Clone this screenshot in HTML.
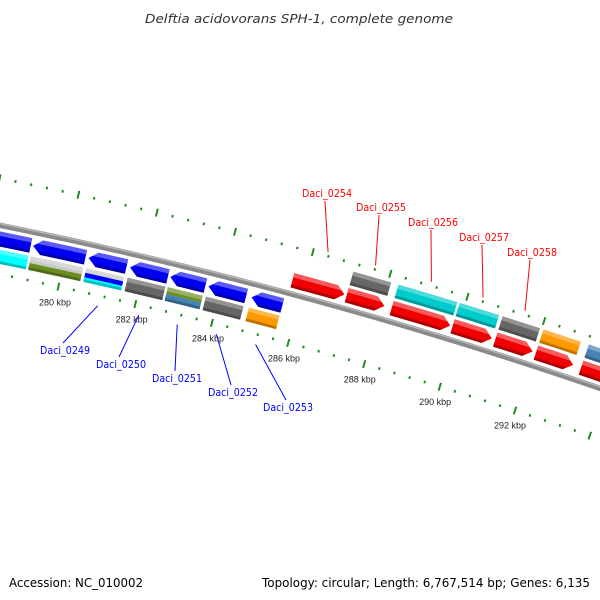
<!DOCTYPE html>
<html><head><meta charset="utf-8">
<style>
html,body{margin:0;padding:0;background:#fff;}
svg{display:block;font-family:"Liberation Sans","DejaVu Sans",sans-serif;}
</style></head>
<body>
<svg id="map" width="600" height="600" viewBox="0 0 600 600" xmlns="http://www.w3.org/2000/svg">
<rect width="600" height="600" fill="#fff"/>
<text x="145" y="23" textLength="308" lengthAdjust="spacingAndGlyphs" font-family="DejaVu Sans, sans-serif" font-size="12.5" font-style="italic" fill="#333">Delftia acidovorans SPH-1, complete genome</text>
<text x="9" y="587" textLength="134" lengthAdjust="spacingAndGlyphs" font-family="DejaVu Sans, sans-serif" font-size="12" fill="#000">Accession: NC_010002</text>
<text x="262" y="587" textLength="328" lengthAdjust="spacingAndGlyphs" font-family="DejaVu Sans, sans-serif" font-size="12" fill="#000">Topology: circular; Length: 6,767,514 bp; Genes: 6,135</text>
<g id="layer"></g>
</svg>
<script>
// ---- data ----
var geneNames = ["g0248","Daci_0249x","Daci_0249","Daci_0250","Daci_0251","Daci_0252","Daci_0253","Daci_0254","Daci_0255","Daci_0256","Daci_0257","Daci_0258","g0259","g0260"];
var geneStarts = [276.5,279.13,280.56,281.63,282.67,283.66,284.78,285.66,287.07,288.24,289.83,290.95,292.02,293.21];
var geneEnds   = [279.13,280.54,281.60,282.67,283.64,284.70,285.64,287.07,288.11,289.83,290.92,291.99,293.06,295.0];
var geneStrands = [-1,-1,-1,-1,-1,-1,-1,1,1,1,1,1,1,1];
var cogColors = [["#00ffff"],["#c8c8c8","#6b8e23"],["#c8c8c8","#0000ff","#00ffff"],["#666666"],["#6b8e23","#4682b4"],["#666666"],["#ff9900"],[],["#666666"],["#00cccc"],["#00cccc"],["#666666"],["#ff9900"],["#4682b4"]];
var labelledGenes = ["Daci_0249","Daci_0250","Daci_0251","Daci_0252","Daci_0253","Daci_0254","Daci_0255","Daci_0256","Daci_0257","Daci_0258"];
var tickLabels = [280,282,284,286,288,290,292];
var tickStart = 276, tickEnd = 296, minorStep = 0.4, majorStep = 2;

// ---- layout ----
var CX=-949, CY=4903, R=4773, A0=12.31, K0=280, DEG=0.4783;
var labelX = [65,121,177,233,288,327,381,433,484,532];
var labelY = [354,368,382,396,411,197,211,226,241,256];

var NS="http://www.w3.org/2000/svg";
var layer=document.getElementById('layer');
function pt(k,r){var a=(A0+(k-K0)*DEG)*Math.PI/180;return [CX+r*Math.sin(a),CY-r*Math.cos(a)];}
function mk(tag,attrs,parent){var el=document.createElementNS(NS,tag);for(var key in attrs)el.setAttribute(key,attrs[key]);(parent||layer).appendChild(el);return el;}
function fmt(p){return p.map(function(q){return q[0].toFixed(2)+","+q[1].toFixed(2);}).join(" ");}
function band(k1,k2,r1,r2){var p=[],n=8,i;for(i=0;i<=n;i++){p.push(pt(k1+(k2-k1)*i/n,r2));}for(i=n;i>=0;i--){p.push(pt(k1+(k2-k1)*i/n,r1));}return fmt(p);}
function arrowShape(k1,k2,r1,r2,dir){var h=0.22,p=[],n=6,i,rm=(r1+r2)/2;
 if(dir>0){var kb=Math.max(k1,k2-h);for(i=0;i<=n;i++)p.push(pt(k1+(kb-k1)*i/n,r2));p.push(pt(k2,rm));for(i=n;i>=0;i--)p.push(pt(k1+(kb-k1)*i/n,r1));}
 else{var ka=Math.min(k2,k1+h);p.push(pt(k1,rm));for(i=0;i<=n;i++)p.push(pt(ka+(k2-ka)*i/n,r2));for(i=n;i>=0;i--)p.push(pt(ka+(k2-ka)*i/n,r1));}
 return fmt(p);}
var defs=mk('defs',{});

// backbone
function arcPath(r,k1,k2){var s="",n=60;for(var i=0;i<=n;i++){var q=pt(k1+(k2-k1)*i/n,r);s+=(i?"L":"M")+q[0].toFixed(2)+" "+q[1].toFixed(2);}return s;}
var bb=mk('path',{d:arcPath(R,tickStart,tickEnd),stroke:"#8a8a8a","stroke-width":5.5,fill:"none"});


var bbh=mk('path',{d:arcPath(R+1.6,tickStart,tickEnd),stroke:"#b5b5b5","stroke-width":1.5,fill:"none"});



// genes
var shrink=0.03;
for(var g=0;g<geneStarts.length;g++){
 var gs=geneStarts[g]+shrink,ge=geneEnds[g]-shrink,dir=geneStrands[g];
 var r1=dir>0?R+6:R-21, r2=dir>0?R+21:R-6;
 var base=dir>0?"#f00000":"#0000f0";
 var cid="clip"+g;
 var cp=mk('clipPath',{id:cid},defs);
 mk('polygon',{points:arrowShape(gs,ge,r1,r2,dir)},cp);
 var grp=mk('g',{"clip-path":"url(#"+cid+")"});
 
 
 var hgt=r2-r1;
 mk('polygon',{points:band(gs-0.3,ge+0.3,r1,r2),fill:base},grp);
 mk('polygon',{points:band(gs-0.3,ge+0.3,r2-hgt*0.3,r2),fill:"#fff","fill-opacity":0.35},grp);
 mk('polygon',{points:band(gs-0.3,ge+0.3,r1,r1+hgt*0.2),fill:"#000","fill-opacity":0.28},grp);
 var cols=cogColors[g];
 if(cols.length){
  var c1=dir>0?R+24:R-38, c2=dir>0?R+38:R-24, ch=(c2-c1);
  var cg=mk('g',{});
  
  
  var stp=ch/cols.length;
  for(var c=0;c<cols.length;c++){
   var rt=c2-c*stp;
   mk('polygon',{points:band(gs,ge,rt-stp,rt),fill:cols[c]},cg);
  }
  mk('polygon',{points:band(gs,ge,c2-ch*0.3,c2),fill:"#fff","fill-opacity":0.3},cg);
  mk('polygon',{points:band(gs,ge,c1,c1+ch*0.2),fill:"#000","fill-opacity":0.25},cg);
 }
}

// ticks
var green="#228a22";
[R+46,R-48].forEach(function(rr,ri){
 var n=Math.round((tickEnd-tickStart)/minorStep);
 for(var i=0;i<=n;i++){
  var k=tickStart+i*minorStep;
  var major=Math.abs(k/majorStep-Math.round(k/majorStep))<1e-6;
  var len=major?4:1.3;
  var a=pt(k,rr-len),b=pt(k,rr+len);
  var t=mk('line',{x1:a[0],y1:a[1],x2:b[0],y2:b[1],stroke:green,"stroke-width":2});
  
  
 }
});
tickLabels.forEach(function(k){
 var q=pt(k,R-64);
 var t=mk('text',{x:q[0],y:q[1]+3,"text-anchor":"middle","font-size":9,fill:"#222"});
 t.textContent=k+" kbp";
 
 
});

// gene labels
labelledGenes.forEach(function(name,i){
 var gi=geneNames.indexOf(name);
 var mid=(geneStarts[gi]+geneEnds[gi])/2, dir=geneStrands[gi];
 var col=dir>0?"#ff0000":"#0000ff";
 var anc=pt(mid,dir>0?R+50:R-58);
 var lx=labelX[i], ly=labelY[i];
 var ey=dir>0?ly+4:ly-11;
 var ln=mk('line',{x1:anc[0],y1:anc[1],x2:lx-2,y2:ey,stroke:col,"stroke-width":1});
 
 
 var t=mk('text',{x:lx,y:ly,"text-anchor":"middle","font-size":11,fill:col,"font-family":"DejaVu Sans, sans-serif",textLength:50,lengthAdjust:"spacingAndGlyphs"});
 t.textContent=name;
 
 
});
</script>
</body></html>
